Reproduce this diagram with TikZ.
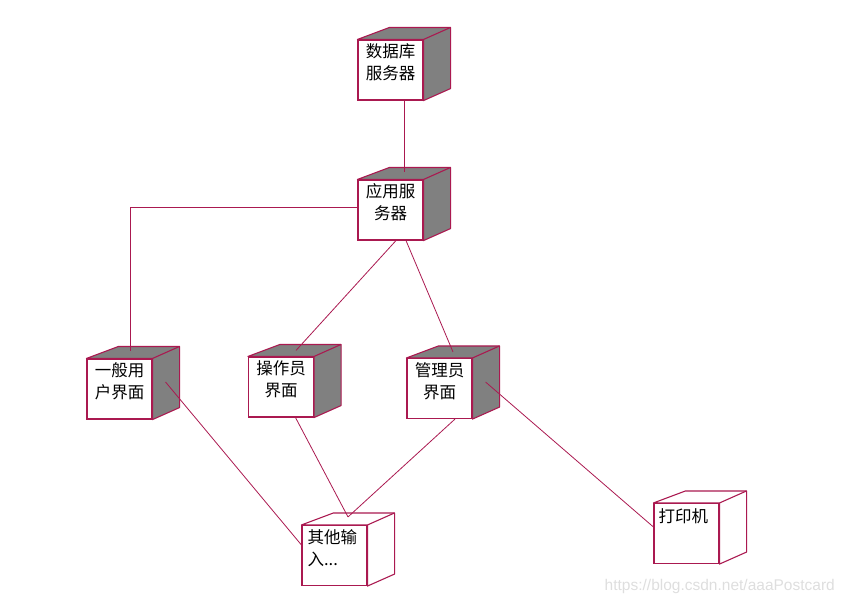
\documentclass[tikz,border=0pt]{standalone}
\usepackage{fontspec}
\newfontfamily\cjk{Noto Sans CJK SC}
\newfontfamily\wmfont{Liberation Sans}
\usetikzlibrary{positioning,calc}
\definecolor{edgecol}{RGB}{170,25,80}
\definecolor{markgray}{RGB}{222,222,222}

\begin{document}
\begin{tikzpicture}[x=1pt,y=-1pt]
		\tikzstyle{box front}=[rectangle,draw=edgecol,fill=white,line width=1.1pt,minimum width=65pt,minimum height=60pt,inner sep=0pt]
		\tikzstyle{box side}=[draw=edgecol,line width=1.1pt,line join=round]
		\tikzstyle{link}=[draw=edgecol,line width=0.8pt]
		\tikzstyle{lbl}=[font=\cjk\fontsize{16.5}{22}\selectfont,align=center,inner sep=0pt]
		\useasboundingbox (0,0) rectangle (844,605);

			% Draw the front faces of the nodes
		\foreach \name / \x / \y in {db/390.5/70, app/390.5/210, gen/119.5/389, op/281/387, mgr/439.5/388.5, oth/334.5/555.5, prn/686.5/533.5}
		\node[box front] (\name) at (\x,\y) {};

			% Draw the top and right faces, grey for processors, white for devices
		\foreach \name / \facecol in {db/gray, app/gray, gen/gray, op/gray, mgr/gray, oth/white, prn/white}
		{
		\filldraw[box side,fill=\facecol] (\name.north west) -- ++(32,-12) -- ($(\name.north east)+(27,-12)$) -- ($(\name.south east)+(27,-12)$) -- (\name.south east) -- (\name.north east) -- cycle;
		\draw[box side] (\name.north east) -- ++(27,-12);
		}

			% Labels
		\node[lbl,below=4pt of db.north] (db-t) {数据库\\服务器};
		\node[lbl,below=4pt of app.north] (app-t) {应用服\\务器};
		\node[lbl,below=4pt of gen.north] (gen-t) {一般用\\户界面};
		\node[lbl,below=4pt of op.north] (op-t) {操作员\\界面};
		\node[lbl,below=4pt of mgr.north] (mgr-t) {管理员\\界面};
		\node[lbl,align=left,anchor=north west] (oth-t) at ([xshift=6pt,yshift=-4pt]oth.north west) {其他输\\入...};
		\node[lbl,anchor=north west] (prn-t) at ([xshift=5pt,yshift=-5pt]prn.north west) {打印机};

			% Connect the nodes
		\draw[link] ([xshift=13.5pt]db.south) -- ([xshift=13.5pt,yshift=7pt]app.north);
		\draw[link] ([yshift=3pt]app.west) -| ([xshift=10.5pt,yshift=7pt]gen.north);
		\draw[link] ([xshift=5.5pt]app.south) -- ([xshift=15pt,yshift=6pt]op.north);
		\draw[link] ([xshift=15.5pt]app.south) -- ([xshift=13.5pt,yshift=6pt]mgr.north);
		\draw[link] ([xshift=13pt,yshift=7pt]gen.east) -- ([yshift=10.5pt]oth.west);
		\draw[link] ([xshift=14.5pt]op.south) -- ([xshift=13.5pt,yshift=8pt]oth.north);
		\draw[link] ([xshift=15.5pt]mgr.south) -- ([xshift=13.5pt,yshift=8pt]oth.north);
		\draw[link] ([xshift=13pt,yshift=6.5pt]mgr.east) -- ([yshift=6.5pt]prn.west);

		\node[font=\wmfont\fontsize{15.5}{15.5}\selectfont,text=markgray,anchor=east,inner sep=0pt] (wm) at (835,586) {https://blog.csdn.net/aaaPostcard};
		\end{tikzpicture}
\end{document}
